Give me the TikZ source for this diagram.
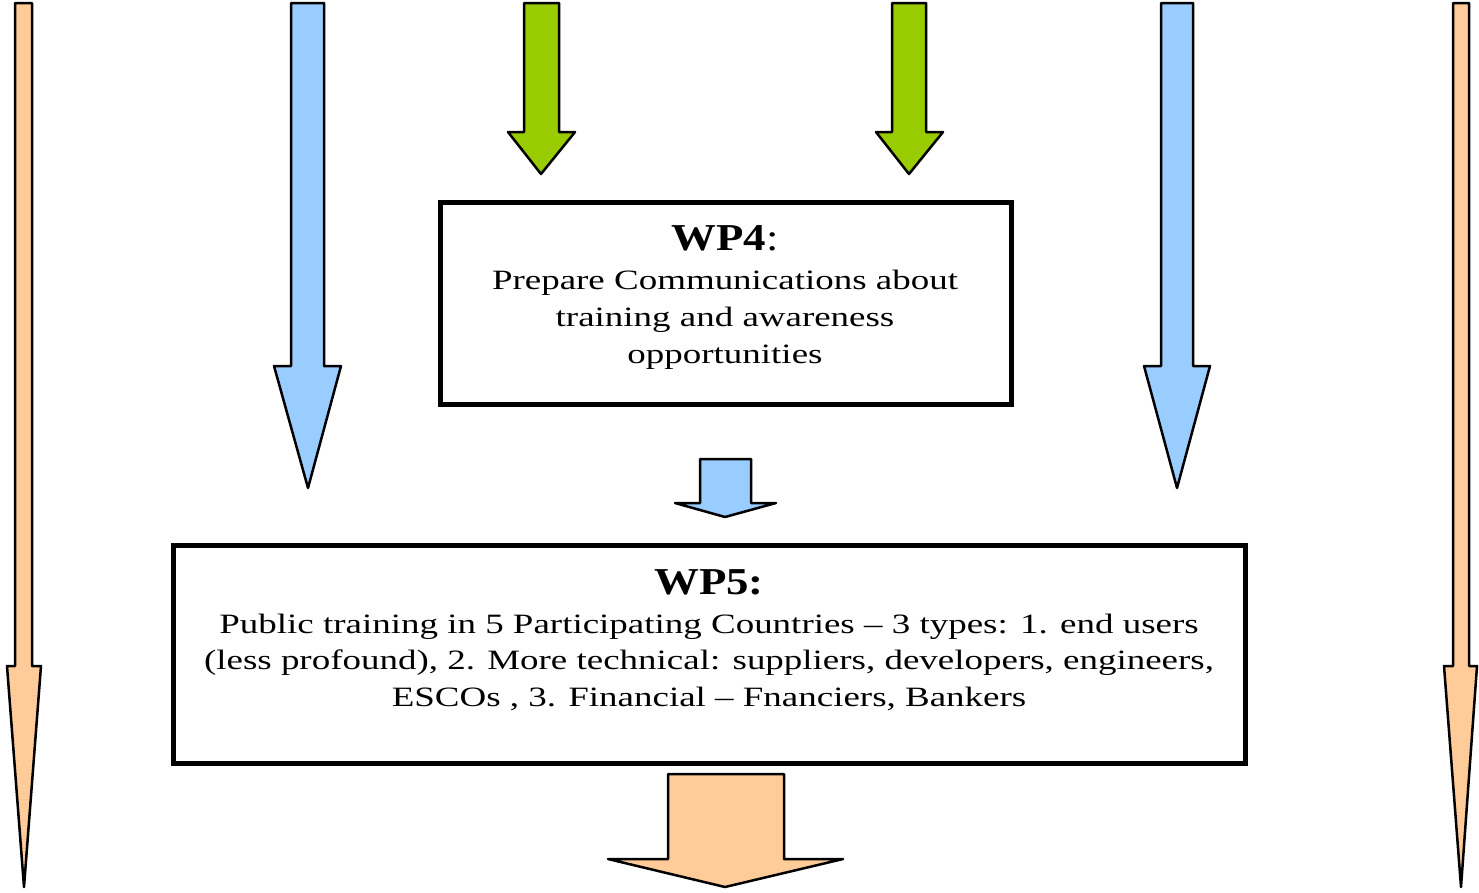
\documentclass[tikz,border=0pt]{standalone}
\usepackage{fontspec}
\usepackage{graphicx}
\setmainfont{Liberation Serif}
\definecolor{peach}{HTML}{FFCC99}
\definecolor{skyblue}{HTML}{99CCFF}
\definecolor{leafgreen}{HTML}{99CC00}
% horizontally widened text lines
\newcommand{\widebody}[1]{\scalebox{1.32}[1]{\fontsize{28}{32}\selectfont #1}}
\newcommand{\widetitle}[1]{\scalebox{1.18}[1]{\fontsize{38}{42}\selectfont #1}}
\tikzset{
  blockarrow/.style={draw=black, line width=2.5pt, line join=round},
  wpbox/.style={draw=black, line width=5pt},
  linetext/.style={anchor=base, inner sep=0pt},
}
% block arrow: #1 fill, #2 shaft left, #3 shaft right, #4 top, #5 head left, #6 head right, #7 head y, #8 tip x, #9 tip y
\newcommand{\blockarrowdown}[9]{%
  \draw[blockarrow, fill=#1] (#2,#4) -- (#3,#4) -- (#3,#7) -- (#6,#7) -- (#8,#9)
    -- (#5,#7) -- (#2,#7) -- cycle;}
\begin{document}
\begin{tikzpicture}[x=1pt, y=-1pt]
\useasboundingbox (0,0) rectangle (1479,892);

% long side arrows
\blockarrowdown{peach}{15}{32}{3}{7}{41}{666}{24}{887}
\blockarrowdown{peach}{1453}{1469}{3}{1444}{1477}{666}{1461}{887}
\blockarrowdown{skyblue}{291}{324}{3}{274}{341}{366}{308}{488}
\blockarrowdown{skyblue}{1161}{1193}{3}{1144}{1210}{366}{1177}{488}
\blockarrowdown{leafgreen}{524}{559}{3}{508}{575}{132}{541}{174}
\blockarrowdown{leafgreen}{892}{926}{3}{876}{943}{132}{909}{174}

% WP4 box
\draw[wpbox] (440,202) rectangle (1011,404);
\node[linetext] (wp4title) at (725,250) {\widetitle{\textbf{WP4}:}};
\node[linetext] (wp4a) at (725,289) {\widebody{Prepare Communications about}};
\node[linetext] (wp4b) at (725,326) {\widebody{training and awareness}};
\node[linetext] (wp4c) at (725,363) {\widebody{opportunities}};

% link WP4 -> WP5
\blockarrowdown{skyblue}{700}{751}{459}{675}{776}{503}{725}{517}

% WP5 box
\draw[wpbox] (173,545) rectangle (1245,763);
\node[linetext] (wp5title) at (709,594) {\widetitle{\textbf{WP5:}}};
\node[linetext] (wp5a) at (709,633) {\widebody{Public training in 5 Participating Countries \textendash{} 3 types: 1. end users}};
\node[linetext] (wp5b) at (709,669) {\widebody{(less profound), 2. More technical: suppliers, developers, engineers,}};
\node[linetext] (wp5c) at (709,706) {\widebody{ESCOs , 3. Financial \textendash{} Fnanciers, Bankers}};

% outgoing arrow
\blockarrowdown{peach}{668}{784}{774}{608}{843}{859}{725}{887}
\end{tikzpicture}
\end{document}
